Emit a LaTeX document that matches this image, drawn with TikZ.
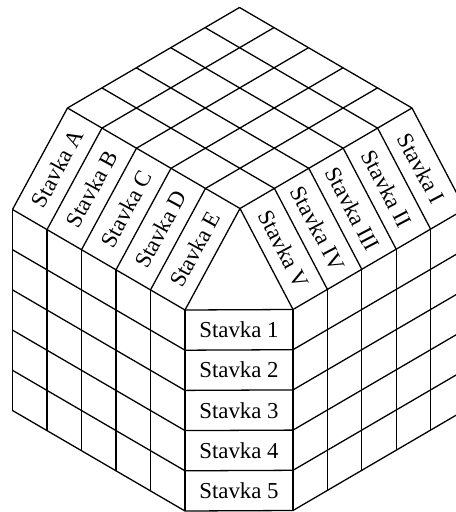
\documentclass[tikz,border=0pt]{standalone}
\usepackage{fontspec}
\setmainfont{Liberation Serif}
\usetikzlibrary{calc}

\def\ax{-34.5}\def\ay{-20.1}
\def\bx{34.4}\def\by{-20.1}
\def\dlx{-55}\def\dly{101.5}
\def\drx{53}\def\dry{101}
\def\rh{40.2}

\begin{document}
\begin{tikzpicture}[x=0.03cm,y=-0.03cm,line width=1.1pt,line join=round,
      slab label/.style={font=\fontsize{19.5}{22}\selectfont,inner sep=0pt},
      row label/.style={font=\fontsize{19.5}{22}\selectfont,inner sep=0pt}]
  \useasboundingbox (0,0) rectangle (456,512);
  \clip (0,0) rectangle (456,512);

  % corners of the roof and the walls
  \foreach \i in {0,...,5} {
    \coordinate (l\i) at ({240+\i*(\ax)},{208.5+\i*(\ay)});
    \coordinate (r\i) at ({240+\i*(\bx)},{208.5+\i*(\by)});
    \coordinate (lw\i) at ($(l\i)+(\dlx,\dly)$);
    \coordinate (rw\i) at ($(r\i)+(\drx,\dry)$);
  }

  % roof grid
  \foreach \i in {0,...,5}
    \draw (l\i) -- ++({5*(\bx)},{5*(\by)}) (r\i) -- ++({5*(\ax)},{5*(\ay)});

  % sloping slabs
  \foreach \i in {0,...,5}
    \draw (l\i) -- (lw\i) (r\i) -- (rw\i);

  % walls
  \foreach \i in {0,...,5}
    \draw (lw\i) -- ++(0,{5*\rh}) (rw\i) -- ++(0,{5*\rh});
  \foreach \k in {0,...,5} {
    \draw ($(lw5)+(0,\k*\rh)$) -- ($(lw0)+(0,\k*\rh)$)
          -- ($(rw0)+(0,\k*\rh)$) -- ($(rw5)+(0,\k*\rh)$);
  }

  % labels
  \foreach \k in {1,...,5}
    \node[row label] (s\k) at ($(lw0)!0.5!(rw0)+(0,{(\k-0.5)*\rh})$) {Stavka \k};
  \foreach \name [count=\i from 0] in {E,D,C,B,A}
    \node[slab label,rotate=61.5] (sl\name)
      at ({240+(\i+0.5)*(\ax)+0.5*(\dlx)},{208.5+(\i+0.5)*(\ay)+0.5*(\dly)}) {Stavka \name};
  \foreach \name [count=\i from 0] in {V,IV,III,II,I}
    \node[slab label,rotate=-62.3] (sr\name)
      at ({240+(\i+0.5)*(\bx)+0.5*(\drx)},{208.5+(\i+0.5)*(\by)+0.5*(\dry)}) {Stavka \name};
\end{tikzpicture}
\end{document}
